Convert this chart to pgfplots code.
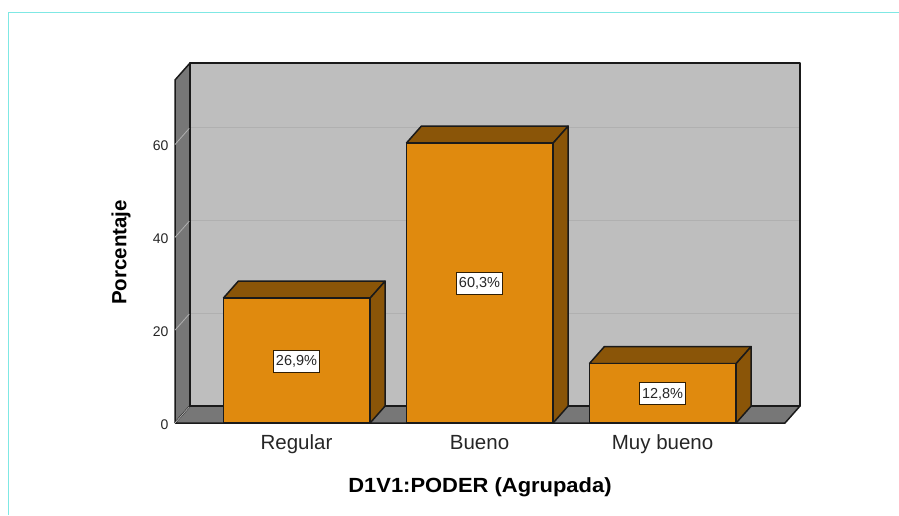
\documentclass[border=0pt]{standalone}
\usepackage{pgfplots}
\pgfplotsset{compat=1.18}
\usepackage{fontspec}
\setmainfont{Liberation Sans}
\definecolor{barfront}{HTML}{E08A0E}
\definecolor{barside}{HTML}{8A5508}
\definecolor{wall}{HTML}{BEBEBE}
\definecolor{sidewall}{HTML}{777777}
\definecolor{gridc}{HTML}{B0B0B0}
\definecolor{framec}{HTML}{7FE8E4}
\definecolor{edge}{HTML}{1A1A1A}
\begin{document}
\begin{tikzpicture}[x=1pt,y=1pt]
\path[use as bounding box] (0,0) rectangle (899,515);
\draw[framec,line width=1.2pt] (8.5,0) -- (8.5,502.5) -- (899,502.5);
\begin{axis}[
  at={(175pt,92pt)},anchor=south west,
  scale only axis,width=610pt,height=343pt,
  xmin=-0.664,xmax=2.669,ymin=0,ymax=73.9,
  clip=false,
  axis line style={draw=none},
  major tick length=0pt,
  xtick={0,1,2},xticklabels={Regular,Bueno,Muy bueno},
  ytick={0,20,40,60},
  /pgf/number format/assume math mode=true,
  xticklabel style={font=\fontsize{20.5}{22}\selectfont,text=black!85,text height=15pt,text depth=4pt,yshift=-8pt},
  yticklabel style={font=\fontsize{14}{16}\selectfont,text=black!85,xshift=-3pt,yshift=-1.5pt},
  xlabel={\scalebox{1.07}[1]{\textbf{D1V1:PODER (Agrupada)}}},
  ylabel={\textbf{Porcentaje}},
  label style={font=\fontsize{20.5}{22}\selectfont},
  xlabel style={at={(axis description cs:0.5,-0.187)},anchor=center},
  ylabel style={at={(axis description cs:-0.0885,0.497)},anchor=center},
  every axis plot/.append style={line join=round},
]
% side wall
\addplot[fill=sidewall,draw=edge,line width=1.5pt] coordinates {(-0.664,0) (-0.582,3.66) (-0.582,77.56) (-0.664,73.9) (-0.664,0)};
% floor
\addplot[fill=sidewall,draw=edge,line width=1.5pt] coordinates {(-0.664,0) (-0.582,3.66) (2.751,3.66) (2.669,0) (-0.664,0)};
% back wall
\addplot[fill=wall,draw=edge,line width=1.5pt] coordinates {(-0.582,3.66) (2.751,3.66) (2.751,77.56) (-0.582,77.56) (-0.582,3.66)};
% gridlines
\addplot[gridc,line width=1pt] coordinates {(-0.574,23.66) (2.743,23.66)};
\addplot[gridc,line width=1pt] coordinates {(-0.574,43.66) (2.743,43.66)};
\addplot[gridc,line width=1pt] coordinates {(-0.574,63.66) (2.743,63.66)};
\addplot[gridc,line width=0.8pt] coordinates {(-0.664,0) (-0.586,3.48)};
\addplot[gridc,line width=0.8pt] coordinates {(-0.664,20) (-0.586,23.48)};
\addplot[gridc,line width=0.8pt] coordinates {(-0.664,40) (-0.586,43.48)};
\addplot[gridc,line width=0.8pt] coordinates {(-0.664,60) (-0.586,63.48)};
% bars: top, side, front
\addplot[fill=barside,draw=edge,line width=1.5pt] coordinates {(-0.4,26.9) (-0.318,30.56) (0.484,30.56) (0.402,26.9) (-0.4,26.9)};
\addplot[fill=barside,draw=edge,line width=1.5pt] coordinates {(0.402,0) (0.484,3.66) (0.484,30.56) (0.402,26.9) (0.402,0)};
\addplot[fill=barfront,draw=edge,line width=1.5pt] coordinates {(-0.4,0) (0.402,0) (0.402,26.9) (-0.4,26.9) (-0.4,0)};
\addplot[fill=barside,draw=edge,line width=1.5pt] coordinates {(0.6,60.3) (0.682,63.96) (1.484,63.96) (1.402,60.3) (0.6,60.3)};
\addplot[fill=barside,draw=edge,line width=1.5pt] coordinates {(1.402,0) (1.484,3.66) (1.484,63.96) (1.402,60.3) (1.402,0)};
\addplot[fill=barfront,draw=edge,line width=1.5pt] coordinates {(0.6,0) (1.402,0) (1.402,60.3) (0.6,60.3) (0.6,0)};
\addplot[fill=barside,draw=edge,line width=1.5pt] coordinates {(1.6,12.8) (1.682,16.46) (2.484,16.46) (2.402,12.8) (1.6,12.8)};
\addplot[fill=barside,draw=edge,line width=1.5pt] coordinates {(2.402,0) (2.484,3.66) (2.484,16.46) (2.402,12.8) (2.402,0)};
\addplot[fill=barfront,draw=edge,line width=1.5pt] coordinates {(1.6,0) (2.402,0) (2.402,12.8) (1.6,12.8) (1.6,0)};
% labels
\tikzset{vlab/.style={fill=white,draw=black!65!barside,line width=1pt,inner xsep=2.6pt,inner ysep=0pt,minimum height=22pt,font=\fontsize{14.5}{16}\selectfont,text=black!85}}
\node[vlab] at (axis cs:0,13.3) {26,9\%};
\node[vlab] at (axis cs:1,30.1) {60,3\%};
\node[vlab] at (axis cs:2,6.25) {12,8\%};
\end{axis}
\end{tikzpicture}
\end{document}
